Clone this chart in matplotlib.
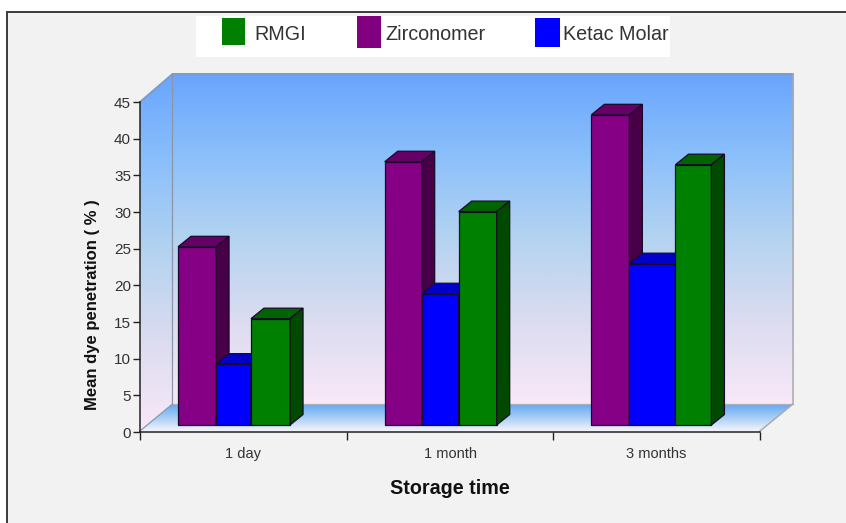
# -*- coding: utf-8 -*-
import numpy as np
import matplotlib
matplotlib.use('Agg')
import matplotlib.pyplot as plt
from matplotlib.colors import LinearSegmentedColormap
from matplotlib.patches import Polygon, Rectangle

# data
categories = ['1 day', '1 month', '3 months']
zirconomer = [24.3, 35.9, 42.3]
ketac_molar = [8.3, 17.9, 22.0]
rmgi = [14.5, 29.1, 35.5]
y_ticks = [0, 5, 10, 15, 20, 25, 30, 35, 40, 45]
legend_names = ['RMGI', 'Zirconomer', 'Ketac Molar']

# bar widths per group, in category units (the source image has uneven bars)
zirconomer_w = [0.184, 0.179, 0.184]
ketac_w = [0.169, 0.179, 0.223]
rmgi_w = [0.189, 0.184, 0.174]
bar_start = 0.184

font = 'Liberation Sans'

W, H = 846, 523
fig = plt.figure(figsize=(W / 100, H / 100), dpi=100, facecolor='white')

# background layer in pixel coordinates
bg = fig.add_axes([0, 0, 1, 1], zorder=0)
bg.axis('off')
bg.add_patch(Rectangle((7, 12), W, H, fc='#f2f2f2', ec='#3a3a3a', lw=1.4))

wall_cmap = LinearSegmentedColormap.from_list(
    'wall', ['#69a5fd', '#8cc0fb', '#b4d3f0', '#dcdcf0', '#f8e8f8'])
floor_cmap = LinearSegmentedColormap.from_list('floor', ['#62a8f5', '#a8cdf5', '#f4f4fa'])
grad = np.linspace(0, 1, 256).reshape(-1, 1)


def gradient(extent, cmap, outline=None):
    im = bg.imshow(grad, extent=extent, cmap=cmap, aspect='auto', zorder=1)
    if outline is not None:
        clip = Polygon(outline, closed=True, transform=bg.transData, fc='none', ec='none')
        bg.add_patch(clip)
        im.set_clip_path(clip)


bg.set_xlim(0, W)
bg.set_ylim(H, 0)
gradient((172.5, 793, 404, 74), wall_cmap)
gradient((140, 173, 431, 74), wall_cmap,
         [(140, 102), (172.5, 74), (172.5, 404), (140, 431)])
gradient((140, 793, 431, 404), floor_cmap,
         [(140, 431), (172.5, 404), (793, 404), (760, 431)])
bg.set_xlim(0, W)
bg.set_ylim(H, 0)
bg.plot([140, 172.5, 793], [102, 74, 74], color='#7d9cc8', lw=1.4, zorder=2)
bg.plot([172.5, 172.5, 140], [74, 404, 431], color='#8a97a8', lw=0.9, zorder=2)
bg.plot([172.5, 793], [404, 404], color='#a8b0bc', lw=0.9, zorder=2)
bg.plot([793, 793, 760], [74, 404, 431], color='#a8abb0', lw=1.1, zorder=2)

# legend strip
bg.add_patch(Rectangle((196, 16), 474, 41, fc='white', ec='none', zorder=2))
swatches = [(222, 18, 23, 27, '#008000'), (357, 16, 24, 32, '#800080'), (535, 18, 25, 29, '#0000ff')]
text_x = [254, 385, 563]
for (sx, sy, sw, sh, col), tx, name in zip(swatches, text_x, legend_names):
    bg.add_patch(Rectangle((sx, sy), sw, sh, fc=col, ec='none', zorder=3))
    bg.text(tx, 35, name, family=font, fontsize=14.2, color='#333333',
            ha='left', va='center', zorder=3)

# chart axes: y 0 at pixel 432, 45 at pixel 102; x 140..760 covers three categories
ax = fig.add_axes([140 / W, 1 - 432 / H, 620 / W, 330 / H], zorder=1)
ax.patch.set_alpha(0)
ax.set_xlim(0, 3)
ax.set_ylim(0, 45)

x_per_px = 3 / 620
y_per_px = 45 / 330
depth_x = 13 * x_per_px
depth_y = 10.5 * y_per_px
base = 7 * y_per_px
edge = '#1a0a2a'


def draw_bar(x, w, v, front, top, side):
    x1 = x + w
    y0 = base
    y1 = base + v
    ax.bar(x, v, width=w, bottom=base, align='edge', color=front, edgecolor=edge,
           linewidth=0.9, zorder=5, clip_on=False)
    ax.add_patch(Polygon([(x, y1), (x + depth_x, y1 + depth_y), (x1 + depth_x, y1 + depth_y), (x1, y1)],
                         closed=True, fc=top, ec=edge, lw=0.9, zorder=5, clip_on=False))
    ax.add_patch(Polygon([(x1, y0), (x1 + depth_x, y0 + depth_y), (x1 + depth_x, y1 + depth_y), (x1, y1)],
                         closed=True, fc=side, ec=edge, lw=0.9, zorder=5, clip_on=False))


for i in range(len(categories)):
    x = i + bar_start
    draw_bar(x, zirconomer_w[i], zirconomer[i], '#860086', '#660066', '#470047')
    x += zirconomer_w[i]
    draw_bar(x, ketac_w[i], ketac_molar[i], '#0000ff', '#0000c8', '#000090')
    x += ketac_w[i]
    draw_bar(x, rmgi_w[i], rmgi[i], '#008000', '#006400', '#004a00')

for s in ['top', 'right']:
    ax.spines[s].set_visible(False)
for s in ['left', 'bottom']:
    ax.spines[s].set_color('#222222')
    ax.spines[s].set_linewidth(1.1)

ax.set_yticks(y_ticks)
ax.set_xticks(range(len(categories) + 1))
ax.set_xticklabels([])
ax.set_xticks(np.arange(len(categories)) + 0.5, labels=categories, minor=True)
ax.tick_params(axis='x', which='major', length=6, width=1, color='#222222')
ax.tick_params(axis='x', which='minor', length=0, pad=11, labelsize=10.5, labelcolor='#333333')
ax.tick_params(axis='y', length=5, width=1, color='#222222', pad=1.5, labelsize=11, labelcolor='#333333')
for lab in ax.get_xticklabels(minor=True) + ax.get_yticklabels():
    lab.set_family(font)

bg.text(449.5, 489, 'Storage time', family=font, fontweight='bold',
        fontsize=14.2, color='#111111', ha='center', va='center')
bg.text(92, 305, 'Mean dye penetration ( % )', family=font, fontweight='bold',
        fontsize=12, color='#111111', rotation=90, ha='center', va='center')

fig.savefig('out.png', dpi=100, facecolor='white')
